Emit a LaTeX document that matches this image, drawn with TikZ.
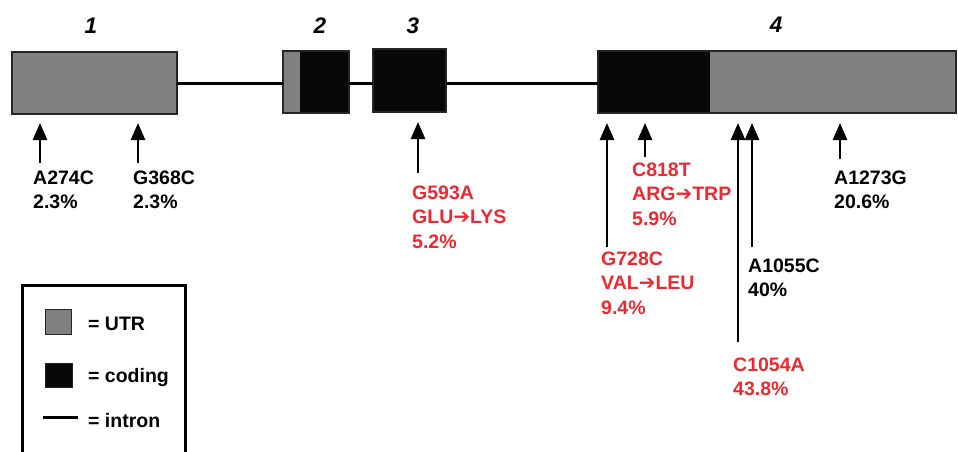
\documentclass[tikz,border=0pt]{standalone}
\usepackage{fontspec}
\setmainfont{Liberation Sans}
\newfontfamily\arrowfont{DejaVu Sans}
\usetikzlibrary{arrows.meta}
\definecolor{utrgray}{RGB}{128,128,128}
\definecolor{cdsblack}{RGB}{8,8,8}
\definecolor{snpred}{RGB}{236,40,48}
\tikzset{
  exon/.style={draw=black!85, line width=1.5pt, inner sep=0pt, outer sep=0pt, anchor=north west},
  utr/.style={exon, fill=utrgray},
  cds/.style={exon, fill=cdsblack},
  intronline/.style={line width=3pt, draw=black},
  snp/.style={line width=2.6pt, -{Triangle[width=14pt,length=17pt]}},
  lab/.style={inner sep=0pt, anchor=base west, font=\bfseries\fontsize{19.5}{24.5}\selectfont},
  redlab/.style={lab, text=snpred},
  exnum/.style={font=\bfseries\itshape\fontsize{22.5}{26}\selectfont, inner sep=0pt},
}
\newcommand{\twolines}[2]{\begin{tabular}[t]{@{}l@{}}#1\\#2\end{tabular}}
\newcommand{\threelines}[3]{\begin{tabular}[t]{@{}l@{}}#1\\#2\\#3\end{tabular}}
% heavy arrow between amino acid names
\newcommand{\aato}{{\arrowfont\fontsize{20}{22}\selectfont\raisebox{0pt}{➔}}}
\begin{document}
\begin{tikzpicture}[x=1pt, y=-1pt]
\useasboundingbox (0,0) rectangle (958,451);
\clip (0,0) rectangle (958,451);

% exons
\node[utr, minimum width=165pt, minimum height=62pt] (e1) at (12,52) {};
\node[utr, minimum width=66pt, minimum height=62pt] (e2) at (283,51) {};
\fill[cdsblack] (300,51) rectangle (349,113);
\draw[black!85, line width=1.5pt] (e2.north west) rectangle (e2.south east);
\node[cds, minimum width=73pt, minimum height=63pt] (e3) at (373,49) {};
\node[utr, minimum width=358pt, minimum height=62pt] (e4) at (598,51) {};
\fill[cdsblack] (598,51) rectangle (710,113);
\draw[black!85, line width=1.5pt] (e4.north west) rectangle (e4.south east);

% introns
\draw[intronline] (e1.east |- 0,83) -- (e2.west |- 0,83);
\draw[intronline] (e2.east |- 0,83) -- (e3.west |- 0,83);
\draw[intronline] (e3.east |- 0,83) -- (e4.west |- 0,83);

% exon numbers
\node[exnum] (n1) at (91,26) {1};
\node[exnum] (n2) at (320,26) {2};
\node[exnum] (n3) at (413,26) {3};
\node[exnum] (n4) at (776,25) {4};

% variant arrows
\coordinate (t1) at (40,123);  \coordinate (b1) at (40,163);
\coordinate (t2) at (138,123); \coordinate (b2) at (138,163);
\coordinate (t3) at (418,122); \coordinate (b3) at (418,173);
\coordinate (t4) at (607,123); \coordinate (b4) at (607,247);
\coordinate (t5) at (645,123); \coordinate (b5) at (645,157);
\coordinate (t6) at (738,123); \coordinate (b6) at (738,342);
\coordinate (t7) at (752,123); \coordinate (b7) at (752,247);
\coordinate (t8) at (840,123); \coordinate (b8) at (840,159);
\foreach \i in {1,...,8} \draw[snp] (b\i) -- (t\i);

% variant labels
\node[lab] (v1) at (33,184) {\twolines{A274C}{2.3\%}};
\node[lab] (v2) at (133,184) {\twolines{G368C}{2.3\%}};
\node[redlab] (v3) at (412,199) {\threelines{G593A}{GLU\aato LYS}{5.2\%}};
\node[redlab] (v4) at (601,265) {\threelines{G728C}{VAL\aato LEU}{9.4\%}};
\node[redlab] (v5) at (632,176) {\threelines{C818T}{ARG\aato TRP}{5.9\%}};
\node[redlab] (v6) at (733,371) {\twolines{C1054A}{43.8\%}};
\node[lab] (v7) at (748,272) {\twolines{A1055C}{40\%}};
\node[lab] (v8) at (834,184) {\twolines{A1273G}{20.6\%}};

% legend
\draw[line width=3pt] (22,285) rectangle (185,470);
\node[exon, fill=utrgray, line width=1pt, minimum width=26pt, minimum height=25pt] (kutr) at (45,309) {};
\node[exon, fill=cdsblack, line width=1pt, minimum width=27pt, minimum height=24pt] (kcds) at (45,363) {};
\coordinate (ka) at (43,417); \coordinate (kb) at (78,417);
\draw[intronline] (ka) -- (kb);
\node[lab] (kt1) at (88,330) {= UTR};
\node[lab] (kt2) at (88,382) {= coding};
\node[lab] (kt3) at (88,427) {= intron};
\end{tikzpicture}
\end{document}
